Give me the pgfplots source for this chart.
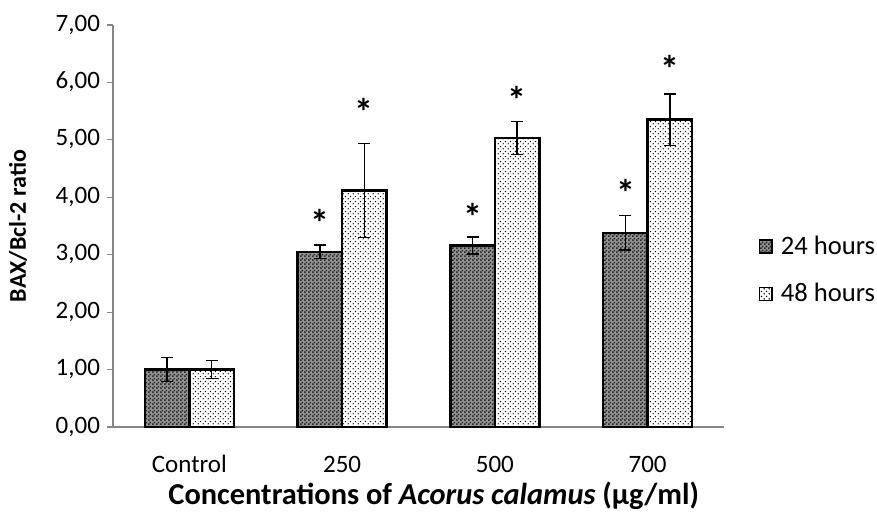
\documentclass[border=0pt]{standalone}
\usepackage{fontspec}
\setmainfont{Carlito}
\usepackage{pgfplots}
\pgfplotsset{compat=1.18}
\usetikzlibrary{patterns,patterns.meta}

\definecolor{axisgray}{RGB}{134,134,134}

% fine dot textures like the Excel fills
\tikzdeclarepattern{
  name=lightdots,
  type=uncolored,
  bounding box={(0pt,0pt) and (2.4pt,2.4pt)},
  tile size={(2.4pt,2.4pt)},
  code={
    \fill (0.6pt,0.6pt) circle (0.38pt);
    \fill (1.8pt,1.8pt) circle (0.38pt);
  }
}
\tikzdeclarepattern{
  name=darkdots,
  type=uncolored,
  bounding box={(0pt,0pt) and (2pt,2pt)},
  tile size={(2pt,2pt)},
  code={
    \fill (0pt,0pt) rectangle (1pt,1pt);
    \fill (1pt,1pt) rectangle (2pt,2pt);
  }
}

\begin{document}
\begin{tikzpicture}[font=\fontsize{12.5pt}{15pt}\selectfont,
    sigstar/.style={font=\bfseries\fontsize{19pt}{20pt}\selectfont, inner sep=0pt}]
\path[use as bounding box] (0pt,0pt) rectangle (438.5pt,258pt);
\begin{axis}[
    at={(56.5pt,44.5pt)}, anchor=south west,
    scale only axis,
    width=305.5pt, height=201pt,
    ybar=0pt, bar width=0.291,
    xmin=-0.5, xmax=3.5,
    ymin=0, ymax=7,
    xtick={0,1,2,3},
    xticklabels={Control,250,500,700},
    ytick={0,1,...,7},
    axis lines=left,
    axis line style={-, draw=axisgray, line width=0.6pt},
    tick align=outside,
    major tick length=3pt,
    xtick style={draw=none},
    ytick style={draw=axisgray, line width=0.6pt},
    typeset ticklabels with strut,
    xticklabel style={yshift=-5.5pt},
    yticklabel style={/pgf/number format/.cd, fixed, fixed zerofill, precision=2, use comma},
    /pgf/number format/assume math mode=true,
    xlabel={Concentrations of \textit{Acorus calamus} (µg/ml)},
    xlabel style={font=\bfseries\fontsize{15.2pt}{18pt}\selectfont,
        at={(axis description cs:0.525,0)}, anchor=center, yshift=-34.5pt},
    ylabel={BAX/Bcl-2 ratio},
    ylabel style={font=\bfseries\fontsize{12pt}{15pt}\selectfont,
        at={(axis description cs:0,0.5)}, anchor=center, yshift=47.5pt},
    legend style={draw=none, fill=none, at={(1.046,0.39)}, anchor=west,
        row sep=9pt, font=\fontsize{13.3pt}{16pt}\selectfont,
        nodes={inner xsep=4pt}},
    legend cell align=left,
    legend image code/.code={
        \draw[#1, line width=0.8pt] (0pt,-3.2pt) rectangle (6.4pt,3.2pt);},
    error bars/error bar style={black, line width=0.65pt},
    error bars/error mark options={rotate=90, mark size=3pt, line width=0.65pt},
]
% 24 hours
\addplot[draw=black, line width=1.3pt, fill=black!42,
    postaction={pattern=darkdots, pattern color=black!85},
    error bars/.cd, y dir=both, y explicit]
    coordinates {
        (0,1.00) +- (0,0.21)
        (1,3.05) +- (0,0.12)
        (2,3.16) +- (0,0.15)
        (3,3.38) +- (0,0.30)
    };
\addlegendentry{24 hours}
% 48 hours
\addplot[draw=black, line width=1.3pt, fill=white,
    postaction={pattern=lightdots, pattern color=black},
    error bars/.cd, y dir=both, y explicit]
    coordinates {
        (0,1.00) +- (0,0.16)
        (1,4.12) +- (0,0.82)
        (2,5.03) +- (0,0.29)
        (3,5.35) +- (0,0.45)
    };
\addlegendentry{48 hours}
% significance marks
\node[sigstar] at (axis cs:0.855,3.56) {*};
\node[sigstar] at (axis cs:1.855,3.66) {*};
\node[sigstar] at (axis cs:2.855,4.08) {*};
\node[sigstar] at (axis cs:1.145,5.49) {*};
\node[sigstar] at (axis cs:2.145,5.70) {*};
\node[sigstar] at (axis cs:3.145,6.24) {*};
\end{axis}
\end{tikzpicture}
\end{document}
